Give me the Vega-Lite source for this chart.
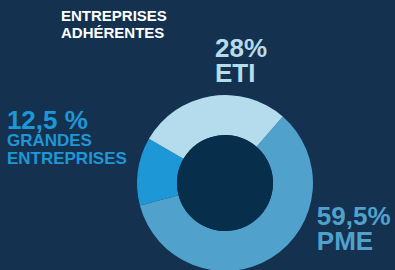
{
  "$schema": "https://vega.github.io/schema/vega-lite/v6.json",
  "autosize": "none",
  "width": 340,
  "height": 174,
  "padding": {"left": 55, "top": 96, "right": 0, "bottom": 0},
  "background": "#143150",
  "config": {"view": {"stroke": null}, "text": {"font": "Liberation Sans", "fontWeight": "bold"}},
  "title": {
    "text": ["ENTREPRISES", "ADHÉRENTES"],
    "font": "Liberation Sans",
    "fontWeight": "bold",
    "fontSize": 15,
    "lineHeight": 17,
    "color": "#ffffff",
    "anchor": "start",
    "frame": "group",
    "dx": 6,
    "offset": -21
  },
  "data": {
    "values": [
      {"cat": "PME", "value": 59.5, "order": 1, "big": "59,5%\nPME", "small": ""},
      {"cat": "GRANDES ENTREPRISES", "value": 12.5, "order": 2, "big": "12,5 %", "small": "GRANDES\nENTREPRISES"},
      {"cat": "ETI", "value": 28, "order": 3, "big": "28%\nETI", "small": ""}
    ]
  },
  "encoding": {
    "theta": {"field": "value", "type": "quantitative", "stack": true, "scale": {"range": [0.7156, 6.9988]}},
    "order": {"field": "order", "type": "quantitative"}
  },
  "layer": [
    {
      "mark": {"type": "arc", "outerRadius": 88, "innerRadius": 48},
      "encoding": {
        "color": {
          "field": "cat",
          "type": "nominal",
          "scale": {"domain": ["PME", "GRANDES ENTREPRISES", "ETI"], "range": ["#50a1cc", "#1e97d6", "#b5dcec"]},
          "legend": null
        }
      }
    },
    {
      "transform": [{"aggregate": [{"op": "sum", "field": "value", "as": "total"}]}],
      "mark": {"type": "arc", "outerRadius": 48, "color": "#072e4b"},
      "encoding": {
        "theta": {"field": "total", "type": "quantitative", "stack": true, "scale": null},
        "order": {"value": 0}
      }
    },
    {
      "mark": {"type": "text", "radius": 126, "dx": 10.6, "dy": -1.7, "align": "left", "baseline": "alphabetic", "fontSize": 26, "lineHeight": 25, "lineBreak": "\n", "color": "#b5dcec"},
      "encoding": {
        "detail": {"field": "cat", "type": "nominal"},
        "text": {"condition": {"test": "datum.cat === 'ETI'", "field": "big"}, "value": ""}
      }
    },
    {
      "mark": {"type": "text", "radius": 100, "dx": 39, "dy": -43, "align": "left", "baseline": "alphabetic", "fontSize": 26, "lineHeight": 25, "lineBreak": "\n", "color": "#50a1cc"},
      "encoding": {
        "detail": {"field": "cat", "type": "nominal"},
        "text": {"condition": {"test": "datum.cat === 'PME'", "field": "big"}, "value": ""}
      }
    },
    {
      "mark": {"type": "text", "radius": 100, "dx": -119, "dy": -40.6, "align": "left", "baseline": "alphabetic", "fontSize": 26, "color": "#1e97d6"},
      "encoding": {
        "detail": {"field": "cat", "type": "nominal"},
        "text": {"condition": {"test": "datum.cat === 'GRANDES ENTREPRISES'", "field": "big"}, "value": ""}
      }
    },
    {
      "mark": {"type": "text", "radius": 100, "dx": -119, "dy": -23.6, "align": "left", "baseline": "alphabetic", "fontSize": 17, "lineHeight": 18, "lineBreak": "\n", "color": "#1e97d6"},
      "encoding": {
        "detail": {"field": "cat", "type": "nominal"},
        "text": {"condition": {"test": "datum.cat === 'GRANDES ENTREPRISES'", "field": "small"}, "value": ""}
      }
    }
  ]
}
